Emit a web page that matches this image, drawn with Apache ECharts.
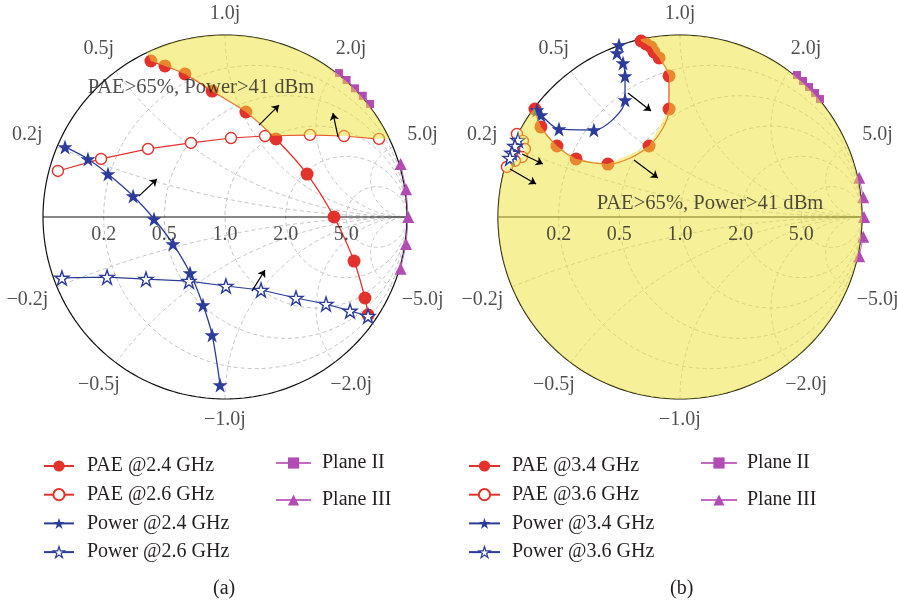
<!DOCTYPE html>
<html>
<head>
<meta charset="utf-8">
<script src="https://cdn.jsdelivr.net/npm/echarts@6/dist/echarts.min.js"></script>
<style>
  html, body { margin: 0; padding: 0; background: #ffffff; }
  #chart { width: 897px; height: 606px; }
</style>
</head>
<body>
<div id="chart"></div>
<script>
// Load-pull contours, stored as reflection coefficients [Re Γ, Im Γ]

// (a) 2.4 / 2.6 GHz
const paeA24 = [[-0.407,0.857],[-0.330,0.830],[-0.220,0.786],[-0.071,0.692],[0.115,0.577],[0.280,0.429],[0.451,0.236],[0.599,0.000],[0.709,-0.242],[0.769,-0.445],[0.786,-0.538]];
const paeA26 = [[-0.918,0.253],[-0.681,0.319],[-0.423,0.374],[-0.187,0.407],[0.033,0.434],[0.220,0.445],[0.467,0.451],[0.654,0.445],[0.846,0.429]];
const powA24 = [[-0.879,0.385],[-0.753,0.319],[-0.643,0.236],[-0.505,0.115],[-0.390,-0.011],[-0.286,-0.148],[-0.192,-0.308],[-0.121,-0.484],[-0.071,-0.648],[-0.027,-0.923]];
const powA26 = [[-0.896,-0.335],[-0.648,-0.330],[-0.434,-0.341],[-0.198,-0.352],[0.005,-0.379],[0.198,-0.401],[0.390,-0.445],[0.555,-0.478],[0.687,-0.516],[0.786,-0.544]];
const planeA2 = [[0.626,0.791],[0.668,0.753],[0.714,0.707],[0.757,0.666],[0.797,0.621]];
const planeA3 = [[0.965,0.291],[0.995,0.152],[1.007,0.000],[0.995,-0.149],[0.965,-0.285]];

// (b) 3.4 / 3.6 GHz
const paeB34 = [[-0.214,0.967],[-0.187,0.951],[-0.159,0.934],[-0.143,0.907],[-0.115,0.874],[-0.060,0.775],[-0.060,0.593],[-0.170,0.390],[-0.396,0.291],[-0.571,0.319],[-0.676,0.390],[-0.764,0.495],[-0.797,0.593]];
const paeB36 = [[-0.896,0.456],[-0.863,0.418],[-0.852,0.374],[-0.868,0.330],[-0.907,0.308],[-0.951,0.275]];
const powB34 = [[-0.335,0.945],[-0.346,0.901],[-0.313,0.846],[-0.302,0.775],[-0.302,0.643],[-0.473,0.478],[-0.665,0.484],[-0.764,0.560],[-0.786,0.588]];
const powB36 = [[-0.890,0.423],[-0.907,0.390],[-0.923,0.352],[-0.934,0.324]];
const planeB2 = [[0.643,0.780],[0.676,0.747],[0.709,0.714],[0.742,0.681],[0.769,0.648]];
const planeB3 = [[0.985,0.215],[1.007,0.108],[1.011,0.000],[1.007,-0.108],[0.985,-0.215]];

// Direction arrows (tail, head)
const arrowsA = [[[-0.473,0.115],[-0.374,0.209]],[[0.187,0.505],[0.297,0.615]],[[0.621,0.440],[0.593,0.571]],[[0.148,-0.407],[0.220,-0.291]]];
const arrowsB = [[[-0.286,0.681],[-0.159,0.582]],[[-0.253,0.313],[-0.121,0.214]],[[-0.868,0.346],[-0.753,0.291]],[[-0.934,0.264],[-0.791,0.181]]];

// Smith chart grid ticks
const resistanceTicks = [0.2, 0.5, 1.0, 2.0, 5.0];
const reactanceTicks = [0.2, 0.5, 1.0, 2.0, 5.0];

const namesA = ['PAE @2.4 GHz', 'PAE @2.6 GHz', 'Power @2.4 GHz', 'Power @2.6 GHz'];
const namesB = ['PAE @3.4 GHz', 'PAE @3.6 GHz', 'Power @3.4 GHz', 'Power @3.6 GHz'];
const planeNames = ['Plane II', 'Plane III'];
const regionText = 'PAE>65%, Power>41 dBm';

// ---------- styling ----------
const FONT = '"Liberation Serif", "Times New Roman", serif';
const INK = '#231f20';
const RED = '#e3312b';
const BLUE = '#2b3c9a';
const MAG = '#b34bb4';
const OVERLAY = 'rgba(238,226,52,0.5)';
const STAR = 'path://M50,2 L61.8,37.6 L99,37.6 L68.9,59.6 L80.4,95.1 L50,73.2 L19.6,95.1 L31.1,59.6 L1,37.6 L38.2,37.6 Z';

// ---------- geometry helpers ----------
const gamma = (r, x) => { const d = (r + 1) * (r + 1) + x * x; return [(r * r - 1 + x * x) / d, 2 * x / d]; };
const ang = p => Math.atan2(p[1], p[0]);
const arc = (a1, a2, n) => { const out = []; for (let i = 0; i <= n; i++) { const a = a1 + (a2 - a1) * i / n; out.push([Math.cos(a), Math.sin(a)]); } return out; };

function gridLines() {
  const lines = [];
  resistanceTicks.forEach(r => {
    const c = r / (1 + r), R = 1 / (1 + r), pts = [];
    for (let i = 0; i <= 160; i++) { const a = i / 160 * 2 * Math.PI; pts.push([c + R * Math.cos(a), R * Math.sin(a)]); }
    lines.push({ coords: pts });
  });
  reactanceTicks.forEach(x0 => [x0, -x0].forEach(x => {
    const pts = [];
    for (let i = 0; i < 200; i++) { const t = i / 200; pts.push(gamma(t / (1 - t), x)); }
    pts.push([1, 0]);
    lines.push({ coords: pts });
  }));
  return lines;
}

function frameLines() {
  return [{ coords: arc(0, 2 * Math.PI, 240) }, { coords: [[-1, 0], [1, 0]] }];
}

function intersect(p1, p2, p3, p4) {
  const d = (p2[0] - p1[0]) * (p4[1] - p3[1]) - (p2[1] - p1[1]) * (p4[0] - p3[0]);
  if (Math.abs(d) < 1e-12) return null;
  const t = ((p3[0] - p1[0]) * (p4[1] - p3[1]) - (p3[1] - p1[1]) * (p4[0] - p3[0])) / d;
  const u = ((p3[0] - p1[0]) * (p2[1] - p1[1]) - (p3[1] - p1[1]) * (p2[0] - p1[0])) / d;
  if (t < 0 || t > 1 || u < 0 || u > 1) return null;
  return { pt: [p1[0] + t * (p2[0] - p1[0]), p1[1] + t * (p2[1] - p1[1])] };
}

// (a): region above the 2.6 GHz PAE contour and right of the 2.4 GHz PAE contour
function regionA() {
  for (let i = 0; i < paeA24.length - 1; i++) {
    for (let j = 0; j < paeA26.length - 1; j++) {
      const hit = intersect(paeA24[i], paeA24[i + 1], paeA26[j], paeA26[j + 1]);
      if (hit) {
        const last = paeA26[paeA26.length - 1];
        const edge = [Math.sqrt(1 - last[1] * last[1]), last[1]];
        return [...paeA24.slice(0, i + 1), hit.pt, ...paeA26.slice(j + 1), edge, ...arc(ang(edge), ang(paeA24[0]), 60)];
      }
    }
  }
  return [];
}

// (b): whole chart outside the two PAE contours
function regionB() {
  const top = ang(paeB34[0]);
  const smallEnd = ang(paeB36[paeB36.length - 1]);
  const smallStart = ang(paeB36[0]);
  const bigEnd = ang(paeB34[paeB34.length - 1]);
  return [
    ...arc(top, smallEnd - 2 * Math.PI, 240),
    ...paeB36.slice().reverse(),
    ...arc(smallStart, bigEnd, 10),
    ...paeB34.slice().reverse()
  ];
}

// ---------- series builders ----------
function curve(gi, name, data, kind) {
  const s = {
    type: 'line', name, data, xAxisIndex: gi, yAxisIndex: gi, z: 2, clip: false,
    silent: true, emphasis: { disabled: true }
  };
  const hollow = { color: '#ffffff', borderWidth: 1.4 };
  if (kind === 'paeFilled') Object.assign(s, { smooth: 0.3, symbol: 'circle', symbolSize: 13, lineStyle: { color: RED, width: 1.3 }, itemStyle: { color: RED } });
  if (kind === 'paeHollow') Object.assign(s, { symbol: 'circle', symbolSize: 11, lineStyle: { color: RED, width: 1.2 }, itemStyle: { ...hollow, borderColor: RED } });
  if (kind === 'powFilled') Object.assign(s, { smooth: 0.3, symbol: STAR, symbolSize: 15, lineStyle: { color: BLUE, width: 1.3 }, itemStyle: { color: BLUE } });
  if (kind === 'powHollow') Object.assign(s, { symbol: STAR, symbolSize: 14, lineStyle: { color: BLUE, width: 1.2 }, itemStyle: { ...hollow, borderColor: BLUE } });
  if (kind === 'plane2') Object.assign(s, { symbol: 'rect', symbolSize: 8, lineStyle: { color: '#c46ac4', width: 1 }, itemStyle: { color: MAG } });
  if (kind === 'plane3') Object.assign(s, { symbol: 'triangle', symbolSize: 12, lineStyle: { color: '#c46ac4', width: 1 }, itemStyle: { color: MAG } });
  return s;
}

function labelSeries(gi, items) {
  return {
    type: 'scatter', xAxisIndex: gi, yAxisIndex: gi, symbolSize: 1, silent: true, z: 6, clip: false,
    itemStyle: { color: 'rgba(0,0,0,0)' },
    label: { show: true, position: 'inside', color: INK, fontFamily: FONT, fontSize: 20 },
    data: items.map(it => ({ value: it.value, label: { formatter: it.text, offset: it.offset || [0, 0], fontSize: it.size || 20 } }))
  };
}

function axisLabels(textPos) {
  const items = [];
  resistanceTicks.forEach(r => items.push({ value: [(r - 1) / (r + 1), 0], text: r.toFixed(1), offset: [0, 18] }));
  reactanceTicks.forEach(x0 => [x0, -x0].forEach(x => {
    const p = gamma(0, x);
    const ux = p[0], uy = -p[1];
    const d = 21 + 12 * Math.abs(ux);
    items.push({ value: p, text: (x < 0 ? '\u2212' : '') + x0.toFixed(1) + 'j', offset: [ux * d, uy * d] });
  }));
  items.push({ value: textPos, text: regionText, size: 20.6 });
  return items;
}

function chartSeries(gi, sets, names, region, arrows, textPos) {
  return [
    { type: 'lines', coordinateSystem: 'cartesian2d', xAxisIndex: gi, yAxisIndex: gi, polyline: true, silent: true, clip: false, z: 1,
      lineStyle: { color: '#c4c4c4', width: 1, type: [4, 3], opacity: 1 }, data: gridLines() },
    { type: 'lines', coordinateSystem: 'cartesian2d', xAxisIndex: gi, yAxisIndex: gi, polyline: true, silent: true, clip: false, z: 1,
      lineStyle: { color: '#111111', width: 1.2, opacity: 1 }, data: frameLines() },
    curve(gi, names[0], sets[0], 'paeFilled'),
    curve(gi, names[1], sets[1], 'paeHollow'),
    curve(gi, names[2], sets[2], 'powFilled'),
    curve(gi, names[3], sets[3], 'powHollow'),
    curve(gi, planeNames[0], sets[4], 'plane2'),
    curve(gi, planeNames[1], sets[5], 'plane3'),
    { type: 'custom', coordinateSystem: 'cartesian2d', xAxisIndex: gi, yAxisIndex: gi, silent: true, z: 3, clip: false,
      data: [[0, 0]],
      renderItem: (params, api) => ({ type: 'polygon', silent: true, shape: { points: region.map(p => api.coord(p)) }, style: { fill: OVERLAY } }) },
    { type: 'lines', coordinateSystem: 'cartesian2d', xAxisIndex: gi, yAxisIndex: gi, silent: true, clip: false, z: 5,
      symbol: ['none', 'arrow'], symbolSize: 7,
      lineStyle: { color: '#000000', width: 1.2, opacity: 1 }, data: arrows.map(a => ({ coords: a })) },
    labelSeries(gi, axisLabels(textPos))
  ];
}

// Legend entries; the hollow star keeps a thin outline in its icon
function legendItems(names) {
  return names.map((n, i) => (i === 3 ? { name: n, itemStyle: { borderWidth: 1.2 } } : { name: n }));
}

function legend(left, top, data, itemWidth, gap, textGap) {
  return {
    left, top, orient: 'vertical', data, itemWidth, itemHeight: 14, itemGap: gap, padding: 0,
    selectedMode: false,
    textStyle: { fontFamily: FONT, fontSize: 20, color: INK, lineHeight: 20, padding: [0, 0, 0, textGap] }
  };
}

const chart = echarts.init(document.getElementById('chart'), null, { renderer: 'canvas' });
chart.setOption({
  animation: false,
  backgroundColor: '#ffffff',
  grid: [
    { left: 43, top: 35, width: 364, height: 364 },
    { left: 498, top: 35, width: 364, height: 364 }
  ],
  xAxis: [0, 1].map(i => ({ gridIndex: i, type: 'value', min: -1, max: 1, show: false })),
  yAxis: [0, 1].map(i => ({ gridIndex: i, type: 'value', min: -1, max: 1, show: false })),
  legend: [
    legend(43, 456, legendItems(namesA), 30, 8.7, 8),
    legend(275, 453, planeNames, 35, 17, 6),
    legend(468, 456, legendItems(namesB), 31, 8.7, 7),
    legend(700, 453, planeNames, 36, 17, 5)
  ],
  graphic: [
    { type: 'text', left: 213, top: 579, style: { text: '(a)', font: '20px ' + FONT, fill: INK } },
    { type: 'text', left: 670, top: 579, style: { text: '(b)', font: '20px ' + FONT, fill: INK } }
  ],
  series: [
    ...chartSeries(0, [paeA24, paeA26, powA24, powA26, planeA2, planeA3], namesA, regionA(), arrowsA, [-0.132, 0.709]),
    ...chartSeries(1, [paeB34, paeB36, powB34, powB36, planeB2, planeB3], namesB, regionB(), arrowsB, [0.165, 0.071])
  ]
});
</script>
</body>
</html>
